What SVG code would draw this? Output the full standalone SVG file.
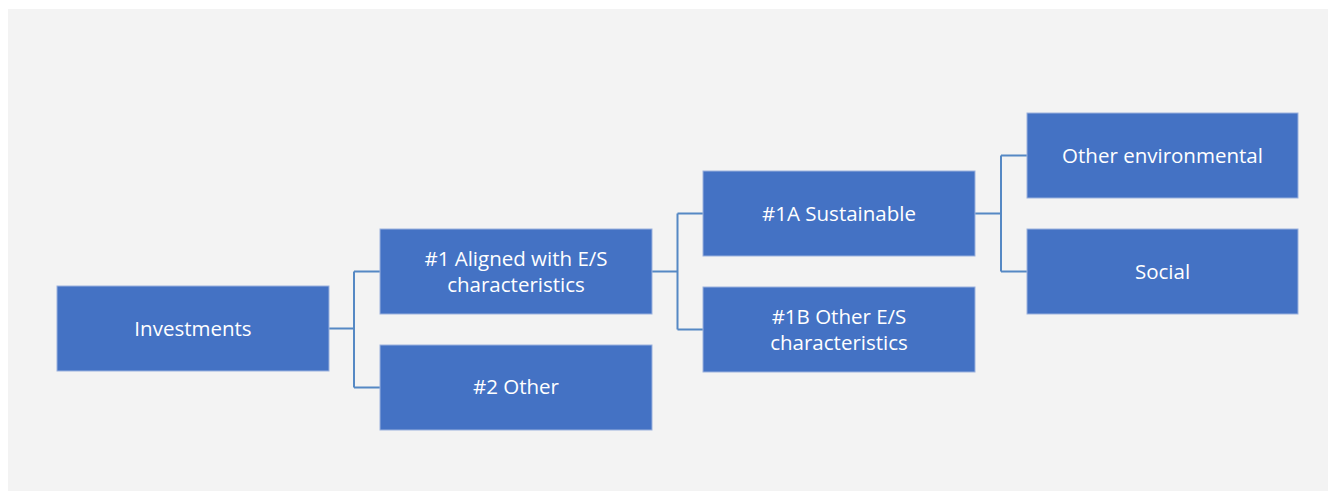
<svg xmlns="http://www.w3.org/2000/svg" width="1328" height="491" viewBox="0 0 1328 491">
  <style>
    .box { fill: #4472c4; stroke: #9bb2de; stroke-width: 1; }
    .lbl { font-family: "Open Sans", "Noto Sans", "Liberation Sans", sans-serif; font-size: 20.5px; fill: #ffffff; text-anchor: middle; }
    .conn { fill: none; stroke: #5588c4; stroke-width: 2; }
  </style>
  <rect x="0" y="0" width="1328" height="491" fill="#ffffff"/>
  <rect x="8" y="9" width="1320" height="482" fill="#f3f3f3"/>

  <g id="connectors">
    <path class="conn" d="M329 328.5 H354 M354 271.5 V387.5 M354 271.5 H380 M354 387.5 H380"/>
    <path class="conn" d="M652 271.5 H677.5 M677.5 213.5 V329.5 M677.5 213.5 H703 M677.5 329.5 H703"/>
    <path class="conn" d="M975 213.5 H1001 M1001 155.5 V271.5 M1001 155.5 H1027 M1001 271.5 H1027"/>
  </g>

  <g id="investments">
    <rect class="box" x="57" y="286" width="272" height="85"/>
    <text class="lbl" x="193" y="336">Investments</text>
  </g>
  <g id="aligned">
    <rect class="box" x="380" y="229" width="272" height="85"/>
    <text class="lbl" x="516" y="266">#1 Aligned with E/S</text>
    <text class="lbl" x="516" y="292">characteristics</text>
  </g>
  <g id="other2">
    <rect class="box" x="380" y="345" width="272" height="85"/>
    <text class="lbl" x="516" y="394">#2 Other</text>
  </g>
  <g id="sustainable">
    <rect class="box" x="703" y="171" width="272" height="85"/>
    <text class="lbl" x="839" y="220.5">#1A Sustainable</text>
  </g>
  <g id="other-es">
    <rect class="box" x="703" y="287" width="272" height="85"/>
    <text class="lbl" x="839" y="323.5">#1B Other E/S</text>
    <text class="lbl" x="839" y="349.5">characteristics</text>
  </g>
  <g id="other-env">
    <rect class="box" x="1027" y="113" width="271" height="85"/>
    <text class="lbl" x="1162.5" y="162.5">Other environmental</text>
  </g>
  <g id="social">
    <rect class="box" x="1027" y="229" width="271" height="85"/>
    <text class="lbl" x="1162.5" y="278.5">Social</text>
  </g>
</svg>
